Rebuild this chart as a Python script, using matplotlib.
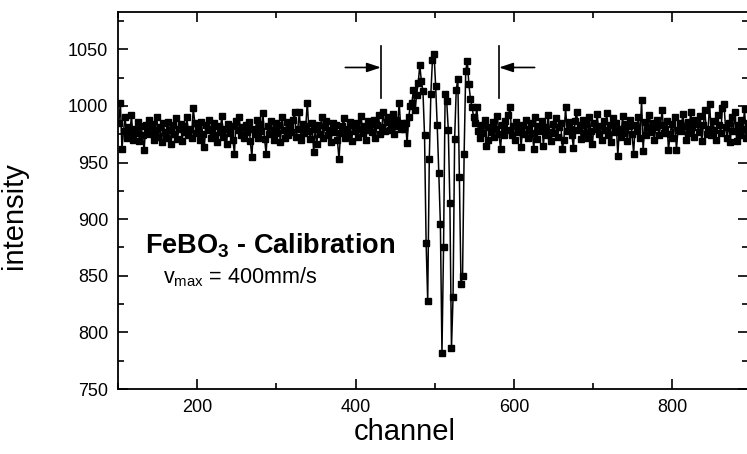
import numpy as np
import matplotlib
matplotlib.use("Agg")
import matplotlib.pyplot as plt

plt.rcParams['font.family'] = ['Liberation Sans', 'DejaVu Sans']
plt.rcParams['mathtext.fontset'] = 'custom'
plt.rcParams['mathtext.rm'] = 'Liberation Sans'
plt.rcParams['mathtext.bf'] = 'Liberation Sans:bold'
plt.rcParams['mathtext.it'] = 'Liberation Sans:italic'

# channels (every second channel)
channel = np.arange(101, 896, 2)

# baseline left of the absorption pattern (channels 101..459)
left_baseline = [
    985, 1003, 962, 978, 990, 972, 981, 975, 992, 970,
    980, 976, 986, 969, 982, 974, 961, 983, 977, 988,
    975, 984, 970, 979, 990, 973, 981, 968, 985, 977,
    972, 986, 979, 966, 983, 975, 989, 971, 980, 984,
    969, 982, 977, 990, 974, 980, 972, 998, 985, 976,
    981, 970, 986, 975, 964, 983, 979, 988, 972, 980,
    985, 974, 968, 982, 977, 991, 973, 980, 966, 984,
    976, 982, 970, 958, 987, 979, 990, 974, 981, 972,
    983, 977, 986, 969, 955, 980, 975, 988, 972, 984,
    978, 994, 971, 958, 982, 975, 987, 979, 970, 985,
    976, 983, 968, 990, 979, 972, 986, 974, 981, 977,
    988, 995, 973, 980, 995, 970, 984, 976, 982, 1003,
    978, 971, 985, 959, 980, 966, 983, 975, 990, 972,
    981, 987, 974, 979, 968, 985, 977, 983, 970, 953,
    976, 982, 989, 972, 980, 975, 986, 969, 983, 978,
    985, 973, 980, 991, 976, 982, 970, 987, 979, 984,
    977, 988, 972, 983, 992, 975, 981, 995, 978, 986,
    990, 979, 984, 993, 975, 988, 982, 1003, 980, 985,
]

# absorption pattern (channels 461..549)
pattern = [
    980, 985, 967, 990, 1000, 1003, 1014, 996, 1010, 1020,
    1036, 1022, 1013, 974, 879, 828, 953, 1011, 1041, 1046,
    1018, 983, 941, 896, 782, 875, 1011, 1004, 979, 914,
    786, 831, 971, 1014, 1024, 937, 843, 850, 958, 1031,
    1040, 1019, 1006, 999, 990,
]

# baseline right of the absorption pattern (channels 551..895)
right_baseline = [
    985, 999, 978, 972, 983, 976, 988, 965, 970, 981,
    977, 986, 973, 980, 991, 975, 962, 983, 974, 987,
    979, 992, 999, 974, 982, 970, 986, 977, 981, 964,
    983, 975, 988, 972, 980, 985, 976, 962, 990, 971,
    982, 978, 987, 965, 981, 974, 992, 977, 969, 984,
    976, 989, 973, 981, 985, 962, 970, 999, 978, 986,
    980, 974, 963, 987, 995, 979, 983, 971, 988, 976,
    984, 972, 990, 978, 966, 985, 980, 993, 975, 982,
    970, 987, 979, 994, 974, 983, 968, 989, 977, 985,
    956, 980, 973, 991, 976, 984, 969, 982, 988, 975,
    958, 983, 978, 990, 972, 1005, 960, 986, 974, 981,
    992, 977, 985, 970, 981, 988, 974, 983, 996, 976,
    980, 987, 961, 975, 984, 972, 990, 961, 979, 985,
    978, 993, 982, 970, 986, 976, 995, 981, 973, 988,
    984, 977, 991, 969, 983, 996, 975, 980, 1002, 974,
    987, 979, 970, 992, 983, 976, 998, 1002, 981, 972,
    985, 968, 990, 978, 995, 969, 983, 974, 988, 980,
    997, 972, 985,
]

intensity = np.array(left_baseline + pattern + right_baseline)

# annotation positions (window markers)
left_mark_x = 432
right_mark_x = 581
mark_y_low, mark_y_high = 1007, 1053
arrow_y = 1034
arrow_len = 45

fig = plt.figure(figsize=(7.47, 4.54), dpi=100)
ax = fig.add_axes([118 / 747, 1 - 389 / 454, 1.002 - 118 / 747, (389 - 12) / 454])

ax.plot(channel, intensity, color='black', lw=1.1, marker='s', markersize=4.4,
        markerfacecolor='black', markeredgecolor='black', clip_on=True)

ax.set_xlim(100, 896)
ax.set_ylim(750, 1083)
ax.set_xticks([200, 400, 600, 800])
ax.set_xticks([100, 300, 500, 700], minor=True)
ax.set_yticks([750, 800, 850, 900, 950, 1000, 1050])
ax.set_yticks([775, 825, 875, 925, 975, 1025, 1075], minor=True)
ax.tick_params(which='both', direction='in', top=True, right=True, width=1.2)
ax.tick_params(which='major', length=7, labelsize=13, pad=7)
ax.tick_params(which='minor', length=4.5)
for s in ax.spines.values():
    s.set_linewidth(1.3)

fig.text(405 / 747, 1 - 432 / 454, 'channel', fontsize=21, ha='center', va='center')
fig.text(14 / 747, 1 - 216 / 454, 'intensity', fontsize=21, ha='center', va='center',
         rotation=90)

# window markers with arrows
for mx in (left_mark_x, right_mark_x):
    ax.plot([mx, mx], [mark_y_low, mark_y_high], color='black', lw=1.2)
ax.annotate('', xy=(left_mark_x, arrow_y), xytext=(left_mark_x - arrow_len, arrow_y),
            arrowprops=dict(arrowstyle='-|>,head_length=0.6,head_width=0.2',
                            color='black', lw=1.2,
                            mutation_scale=14, shrinkA=0, shrinkB=0))
ax.annotate('', xy=(right_mark_x, arrow_y), xytext=(right_mark_x + arrow_len, arrow_y),
            arrowprops=dict(arrowstyle='-|>,head_length=0.6,head_width=0.2',
                            color='black', lw=1.2,
                            mutation_scale=14, shrinkA=0, shrinkB=0))

fig.text(145 / 747, 1 - 253 / 454, r'FeBO$_\mathbf{3}$ - Calibration', fontsize=19.5,
         fontweight='bold', ha='left', va='baseline')
fig.text(163 / 747, 1 - 283 / 454, r'v$_{\mathrm{max}}$ = 400mm/s', fontsize=15.5,
         ha='left', va='baseline')

fig.savefig('out.png', dpi=100)
